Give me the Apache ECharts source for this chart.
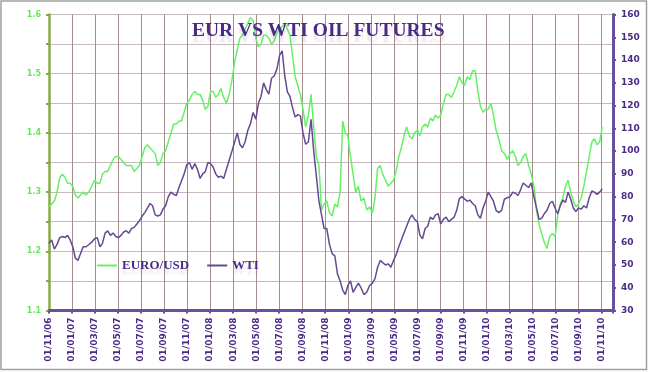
<!DOCTYPE html>
<html><head><meta charset="utf-8">
<script src="https://cdn.jsdelivr.net/npm/echarts@6/dist/echarts.min.js"></script>
<style>html,body{margin:0;padding:0;background:#fff}#c{width:649px;height:372px}</style>
</head><body><div id="c"></div>
<script>
// Weekly samples starting 1 Nov 2006
const startYear = 2006, startMonth = 10, startDay = 1, stepDays = 7;

const tickLabels = ['01/11/06','01/01/07','01/03/07','01/05/07','01/07/07','01/09/07','01/11/07',
  '01/01/08','01/03/08','01/05/08','01/07/08','01/09/08','01/11/08',
  '01/01/09','01/03/09','01/05/09','01/07/09','01/09/09','01/11/09',
  '01/01/10','01/03/10','01/05/10','01/07/10','01/09/10','01/11/10'];

const eurUsd = [
  1.275,1.28,1.285,1.30,1.325,            // Nov06
  1.33,1.325,1.315,1.315,                 // Dec06
  1.31,1.295,1.29,1.295,1.30,             // Jan07
  1.295,1.30,1.31,1.32,                   // Feb07
  1.315,1.315,1.33,1.335,                 // Mar07
  1.335,1.345,1.355,1.36,                 // Apr07
  1.36,1.355,1.35,1.345,1.345,            // May07
  1.345,1.335,1.34,1.345,                 // Jun07
  1.36,1.375,1.38,1.375,                  // Jul07
  1.37,1.365,1.345,1.35,1.365,            // Aug07
  1.37,1.385,1.40,1.415,                  // Sep07
  1.415,1.42,1.42,1.435,1.45,             // Oct07
  1.455,1.465,1.47,1.465,                 // Nov07
  1.465,1.455,1.44,1.445,                 // Dec07
  1.47,1.47,1.46,1.465,1.475,             // Jan08
  1.46,1.45,1.465,1.49,                   // Feb08
  1.52,1.54,1.56,1.565,                   // Mar08
  1.575,1.585,1.595,1.59,1.56,            // Apr08
  1.545,1.55,1.565,1.565,                 // May08
  1.56,1.55,1.555,1.57,                   // Jun08
  1.575,1.58,1.585,1.575,1.565,           // Jul08
  1.53,1.495,1.48,1.465,                  // Aug08
  1.44,1.41,1.43,1.465,1.41,              // Sep08
  1.36,1.345,1.27,1.28,                   // Oct08
  1.285,1.265,1.26,1.28,                  // Nov08
  1.275,1.30,1.42,1.40,1.395,             // Dec08
  1.36,1.33,1.30,1.31,                    // Jan09
  1.285,1.29,1.27,1.275,                  // Feb09
  1.265,1.29,1.34,1.345,                  // Mar09
  1.33,1.32,1.31,1.315,1.32,              // Apr09
  1.335,1.36,1.375,1.395,                 // May09
  1.41,1.395,1.39,1.40,                   // Jun09
  1.405,1.395,1.41,1.415,1.41,            // Jul09
  1.425,1.42,1.43,1.425,                  // Aug09
  1.43,1.45,1.465,1.465,1.46,             // Sep09
  1.47,1.48,1.495,1.485,                  // Oct09
  1.48,1.495,1.49,1.505,                  // Nov09
  1.505,1.47,1.445,1.435,1.44,            // Dec09
  1.44,1.45,1.43,1.405,                   // Jan10
  1.39,1.37,1.365,1.355,                  // Feb10
  1.365,1.37,1.36,1.345,1.35,             // Mar10
  1.36,1.365,1.345,1.33,                  // Apr10
  1.31,1.27,1.245,1.23,                   // May10
  1.215,1.205,1.225,1.23,1.225,           // Jun10
  1.26,1.28,1.29,1.31,                    // Jul10
  1.32,1.30,1.285,1.275,                  // Aug10
  1.28,1.29,1.31,1.335,1.36,              // Sep10
  1.385,1.39,1.38,1.385,                  // Oct10
  1.41                                    // Nov10
];

const wti = [
  59.5,61,57,59,62,          // Nov06
  62.5,62,63,61,             // Dec06
  58,53,52,55,58,            // Jan07
  58,59,60,61.5,             // Feb07
  62,58,59.5,64,             // Mar07
  65,63,64,62.5,             // Apr07
  62,63,64.5,65,64,          // May07
  66,66.5,68,69.5,           // Jun07
  71.5,73,75,77,             // Jul07
  76,72,71.5,72,74.5,        // Aug07
  76,80,82,81,               // Sep07
  80.5,84,87,90,94,          // Oct07
  95,92,94.5,92,             // Nov07
  88,90,91,95,               // Dec07
  94.5,93,90,88.5,89,        // Jan08
  88,92,96,100,              // Feb08
  104,108,103,101.5,         // Mar08
  104,109,112,117,114,       // Apr08
  121,124,130,127,           // May08
  125,132,133,136,           // Jun08
  142,144,133,126,124,       // Jul08
  119,115,116,115.5,         // Aug08
  108,103,104,114,100,       // Sep08
  89,78,72,66,               // Oct08
  66,59,55,54,               // Nov08
  46,43,39,37,41,            // Dec08
  43,38,40,42,               // Jan09
  40,37,38,41,               // Feb09
  42,44,49,52,               // Mar09
  51,50,50.5,49,52,          // Apr09
  54.5,58,61,64,             // May09
  67,70,72,70,               // Jun09
  69,63,61.5,66,67,          // Jul09
  71,70,72,72.5,             // Aug09
  68,70,71,69,70,            // Sep09
  71,74,79,80,               // Oct09
  79,78,78.5,77,             // Nov09
  76,72,70.5,75,78,          // Dec09
  82,80,78,74,               // Jan10
  73,74,79,79.5,             // Feb10
  80,82,81.5,80.5,83,        // Mar10
  86,85,84,86,               // Apr10
  80,75,70,70.5,             // May10
  72.5,74,77,78,75,          // Jun10
  72.5,76,78.5,77.5,         // Jul10
  82,79,75,73.5,             // Aug10
  75,74.5,76,75,79.5,        // Sep10
  82.5,82,81,82,             // Oct10
  83.5                       // Nov10
];

// x position in months since the first tick (1 Nov 2006)
function monthPos(i){
  const d = new Date(Date.UTC(startYear, startMonth, startDay + i*stepDays));
  const y = d.getUTCFullYear(), m = d.getUTCMonth(), day = d.getUTCDate();
  const dim = new Date(Date.UTC(y, m+1, 0)).getUTCDate();
  return (y-startYear)*12 + (m-startMonth) + (day-1)/dim;
}
const eurData = eurUsd.map((v,i)=>[monthPos(i), v]);
const wtiData = wti.map((v,i)=>[monthPos(i), v]);

const purple = '#4a2a86';
const chart = echarts.init(document.getElementById('c'), null, {renderer:'canvas'});
chart.setOption({
  animation:false,
  backgroundColor:'#fff',
  title:{
    text:'EUR VS WTI OIL FUTURES', left:192, top:21, padding:0,
    textStyle:{fontFamily:'Liberation Serif', fontWeight:'bold', fontSize:19.5, color:purple,
      textShadowColor:'rgba(120,100,150,0.18)', textShadowOffsetY:6, textShadowBlur:2}
  },
  legend:{
    data:['EURO/USD','WTI'], left:97, top:259, padding:0, icon:'rect', itemWidth:20, itemHeight:2, itemGap:18,
    textStyle:{fontFamily:'Liberation Serif', fontWeight:'bold', fontSize:13, color:purple,
      textShadowColor:'rgba(120,100,150,0.15)', textShadowOffsetY:5, textShadowBlur:2}
  },
  grid:{left:49, right:36, top:14.5, bottom:61.5},
  graphic:[{type:'rect', shape:{x:1,y:1,width:645.5,height:368.5}, style:{fill:'none', stroke:'#a0a0a0', lineWidth:1.5}, silent:true}],
  xAxis:{
    type:'value', min:0, max:49, interval:2,
    axisLine:{lineStyle:{color:'#6a4f9c', width:3}},
    axisTick:{show:true, length:3, lineStyle:{color:'#6a4f9c', width:2}},
    axisLabel:{rotate:90, margin:7, fontFamily:'DejaVu Sans', fontWeight:'bold', fontSize:9, color:purple,
      formatter:v=>tickLabels[Math.round(v/2)] || ''},
    splitLine:{show:true, lineStyle:{color:'#a68c8c', width:1}}
  },
  yAxis:[{
    type:'value', min:1.1, max:1.6, interval:0.05, position:'left',
    axisLine:{show:true, lineStyle:{color:'#8aa84a', width:2.5}},
    axisTick:{show:true, length:3, lineStyle:{color:'#8aa84a', width:2}},
    axisLabel:{margin:8, fontFamily:'DejaVu Sans', fontWeight:'bold', fontSize:8, color:'#66e85a',
      formatter:v=>{const k=Math.round(v*100); return k%10===0 ? (k/100).toFixed(1) : '';}},
    splitLine:{show:true, lineStyle:{color:'#c8b8c0', width:1}}
  },{
    type:'value', min:30, max:160, interval:10, position:'right',
    axisLine:{show:true, lineStyle:{color:'#6a4f9c', width:3}},
    axisTick:{show:true, length:3, lineStyle:{color:'#6a4f9c', width:2}},
    axisLabel:{margin:8, fontFamily:'DejaVu Sans', fontWeight:'bold', fontSize:9, color:purple},
    splitLine:{show:false}
  }],
  series:[{
    name:'EURO/USD', type:'line', yAxisIndex:0, data:eurData, showSymbol:false,
    lineStyle:{color:'#66f066', width:1.5}, itemStyle:{color:'#66f066'}
  },{
    name:'WTI', type:'line', yAxisIndex:1, data:wtiData, showSymbol:false,
    lineStyle:{color:'#654a93', width:1.5}, itemStyle:{color:'#654a93'}
  }]
});
</script></body></html>
